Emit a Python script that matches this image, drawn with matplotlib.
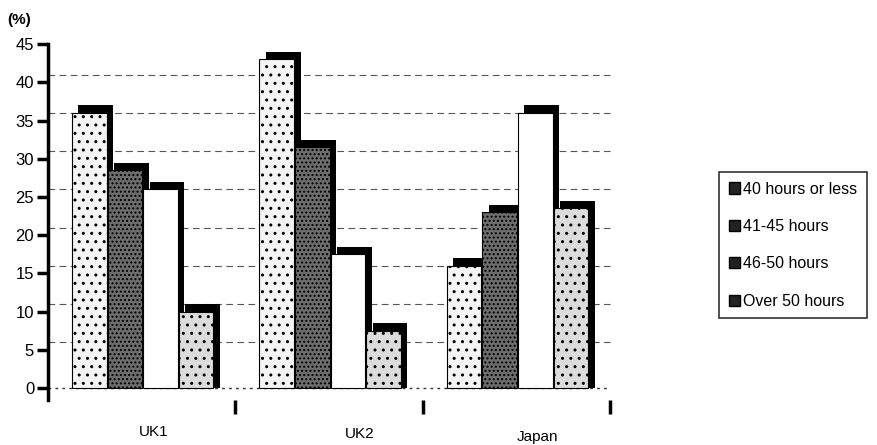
import matplotlib
matplotlib.use("Agg")
import matplotlib.pyplot as plt
import numpy as np
from matplotlib.patches import Patch

plt.rcParams['font.family'] = ['Liberation Sans', 'DejaVu Sans']

categories = ["UK1", "UK2", "Japan"]
series_names = ["40 hours or less", "41-45 hours", "46-50 hours", "Over 50 hours"]
values = {
    "40 hours or less": [36, 43, 16],
    "41-45 hours": [28.5, 31.5, 23],
    "46-50 hours": [26, 17.5, 36],
    "Over 50 hours": [10, 7.5, 23.5],
}
yticks = [0, 5, 10, 15, 20, 25, 30, 35, 40, 45]

face_colors = ["#f4f4f4", "#6e6e6e", "#ffffff", "#dcdcdc"]
hatches = ["..", "....", "", ".."]

fig = plt.figure(figsize=(8.78, 4.45), dpi=100)
ax = fig.add_axes([0.0547, 0.102, 0.651, 0.799])

width = 0.185
group_x = np.arange(len(categories))
for j, name in enumerate(series_names):
    xs = group_x + 0.22 + 0.19 * j
    v = np.array(values[name])
    # 3D-like depth shadow
    ax.bar(xs + 0.035, v + 1.0, width=width, color="black", zorder=2 + j * 2)
    ax.bar(xs, v, width=width, color=face_colors[j], edgecolor="black",
           linewidth=0.8, hatch=hatches[j], zorder=3 + j * 2)

# back-wall gridlines (3D offset)
for t in yticks[1:-1]:
    ax.plot([0, 3], [t + 1, t + 1], ls=(0, (6, 4)), color="#555555", lw=0.8, zorder=1)
ax.plot([0, 3], [0, 0], ls=(0, (2, 3)), color="#333333", lw=1.0, zorder=1)

ax.set_xlim(0, 3.05)
ax.set_ylim(-1.5, 45)
ax.set_yticks(yticks)
ax.set_yticklabels([str(t) for t in yticks], fontsize=12)
ax.tick_params(axis="y", length=8, width=2.5, direction="out", pad=2)

ax.set_xticks([1.0, 2.0, 3.0])
ax.set_xticklabels([])
ax.tick_params(axis="x", length=10, width=2.5, direction="out")

# category labels under the groups
label_x = [0.566, 1.665, 2.61]
label_y = [0.029, 0.025, 0.018]
for name, lx, ly in zip(categories, label_x, label_y):
    fx = ax.transData.transform((lx, 0))[0] / fig.bbox.width
    fig.text(fx, ly, name, fontsize=11, ha="center", va="center")

for s in ["top", "right", "bottom"]:
    ax.spines[s].set_visible(False)
ax.spines["left"].set_linewidth(2.5)

fig.text(0.008, 0.955, "(%)", fontsize=11, fontweight="bold", va="center", ha="left")

handles = [Patch(facecolor="#222222", edgecolor="black") for _ in series_names]
leg = fig.legend(handles, series_names, loc="center left", bbox_to_anchor=(0.810, 0.449),
                 fontsize=11.5, frameon=True, fancybox=False, handlelength=0.7,
                 handleheight=0.7, handletextpad=0.2, labelspacing=1.4,
                 borderpad=0.6, edgecolor="black")
leg.get_frame().set_linewidth(1.2)

fig.savefig("out.png", dpi=100)
